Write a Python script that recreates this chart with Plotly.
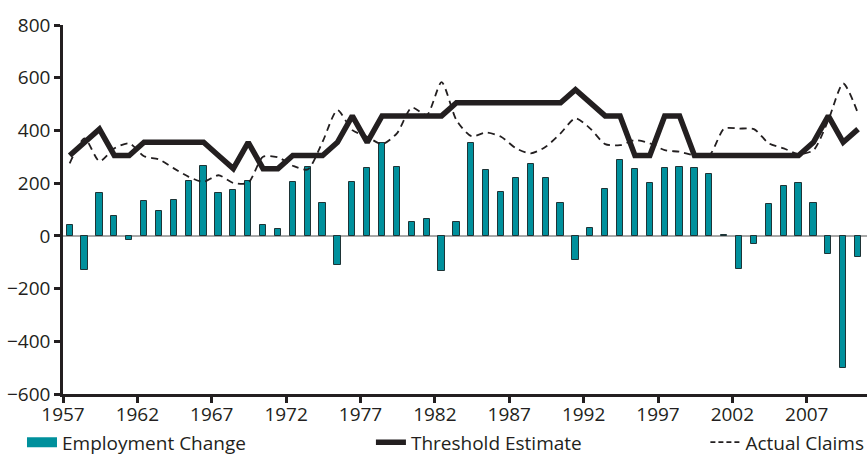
import plotly.graph_objects as go

years = list(range(1957, 2011))

employment_change = [
    40, -128, 163, 77, -16, 132, 94, 137, 208, 264,
    161, 175, 208, 41, 27, 205, 260, 125, -109, 203,
    258, 353, 260, 51, 63, -134, 51, 354, 248, 165,
    218, 271, 221, 124, -91, 28, 177, 286, 252, 200,
    256, 263, 256, 234, 3, -124, -30, 119, 190, 200,
    125, -67, -501, -81,
]

threshold_estimate = [
    305, 355, 405, 305, 305, 355, 355, 355, 355, 355,
    305, 255, 355, 255, 255, 305, 305, 305, 355, 455,
    355, 455, 455, 455, 455, 455, 505, 505, 505, 505,
    505, 505, 505, 505, 555, 505, 455, 455, 305, 305,
    455, 455, 305, 305, 305, 305, 305, 305, 305, 305,
    355, 455, 355, 405,
]

actual_claims = [
    275, 370, 283, 332, 351, 302, 290, 256, 224, 205,
    230, 201, 201, 300, 298, 266, 252, 357, 477, 401,
    376, 348, 389, 487, 458, 583, 439, 378, 392, 376,
    332, 313, 338, 389, 446, 407, 348, 344, 363, 351,
    325, 319, 306, 306, 407, 407, 405, 351, 332, 310,
    325, 439, 578, 464,
]

y_ticks = [-600, -400, -200, 0, 200, 400, 600, 800]
x_ticks = [1957, 1962, 1967, 1972, 1977, 1982, 1987, 1992, 1997, 2002, 2007]

TEAL = "#00909C"
INK = "#231F20"
FONT = "Open Sans"
FS = 19

xpos = [y + 0.45 for y in years]

fig = go.Figure()

fig.add_trace(go.Bar(
    x=xpos, y=employment_change, width=0.42,
    marker=dict(color=TEAL, line=dict(color="#1E3436", width=1)),
    name="Employment Change", showlegend=False,
))
fig.add_trace(go.Scatter(
    x=xpos, y=actual_claims, mode="lines",
    line=dict(color=INK, width=1.8, dash="7px,5px", shape="spline", smoothing=0.7),
    name="Actual Claims", showlegend=False,
))
fig.add_trace(go.Scatter(
    x=xpos, y=threshold_estimate, mode="lines",
    line=dict(color=INK, width=5.5),
    name="Threshold Estimate", showlegend=False,
))

# legend entries
fig.add_trace(go.Scatter(
    x=[None], y=[None], mode="lines", name="Employment Change",
    line=dict(color=TEAL, width=10), legend="legend",
))
fig.add_trace(go.Scatter(
    x=[None], y=[None], mode="lines", name="Threshold Estimate",
    line=dict(color=INK, width=5.5), legend="legend2",
))
fig.add_trace(go.Scatter(
    x=[None], y=[None], mode="lines", name="Actual Claims",
    line=dict(color=INK, width=1.8, dash="5px,3px"), legend="legend3",
))

legend_common = dict(
    orientation="h", yanchor="middle", y=-0.131, xanchor="left",
    font=dict(family=FONT, size=FS, color=INK), bgcolor="rgba(0,0,0,0)",
)

fig.update_layout(
    width=867, height=466,
    margin=dict(l=63, r=0, t=25, b=72, autoexpand=False),
    paper_bgcolor="white", plot_bgcolor="white",
    font=dict(family=FONT, size=FS, color=INK),
    bargap=0,
    xaxis=dict(
        range=[1957, 2011.05], tickvals=x_ticks, ticktext=[str(v) for v in x_ticks],
        showgrid=False, zeroline=False, showline=True, linecolor=INK, linewidth=2.5,
        ticks="outside", ticklen=6, tickwidth=2.5, tickcolor=INK,
        ticklabelstandoff=-5,
        tickfont=dict(family=FONT, size=FS, color=INK), automargin=False,
    ),
    yaxis=dict(
        range=[-600, 800], tickvals=y_ticks,
        showgrid=False, zeroline=True, zerolinecolor="#A8A8A8", zerolinewidth=2,
        showline=True, linecolor=INK, linewidth=2.5,
        ticks="outside", ticklen=6, tickwidth=2.5, tickcolor=INK,
        tickfont=dict(family=FONT, size=FS, color=INK), automargin=False,
    ),
    legend=dict(legend_common, x=-0.051),
    legend2=dict(legend_common, x=0.383),
    legend3=dict(legend_common, x=0.799),
)

fig.write_html(
    "out.html",
    config={"displayModeBar": False},
    post_script="document.body.style.margin='0';document.body.style.overflow='hidden';",
)
